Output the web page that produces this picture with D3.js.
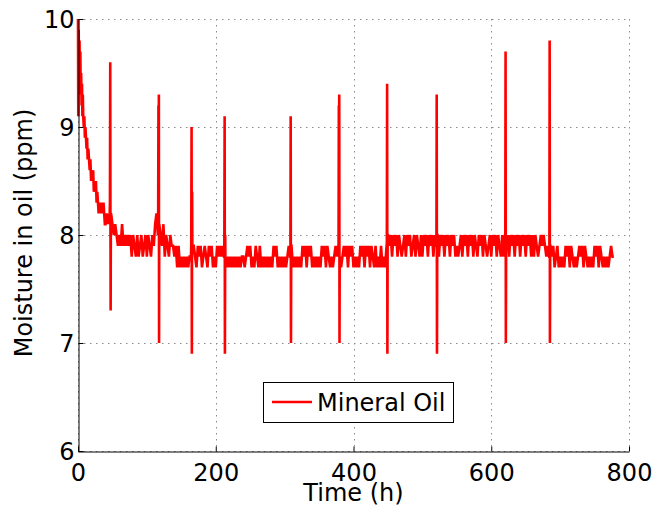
<!DOCTYPE html>
<html>
<head>
<meta charset="utf-8">
<script src="https://cdn.jsdelivr.net/npm/d3@7"></script>
<style>
  html, body { margin: 0; padding: 0; background: #fff; }
  svg { display: block; }
  text { font-family: "DejaVu Sans", "Liberation Sans", Arial, sans-serif; fill: #000; }
</style>
</head>
<body>
<svg id="chart" width="652" height="514"></svg>
<script>
// Axis ticks
const xTicks = [0, 200, 400, 600, 800];
const yTicks = [6, 7, 8, 9, 10];

// Initial drying phase: [time (h), moisture (ppm)]
const decayPoints = [
  [0, 10.0], [0.4, 9.1], [1.0, 9.9], [1.6, 9.3], [2.2, 9.8], [2.8, 9.4],
  [3.4, 9.7], [4.0, 9.3], [4.6, 9.5], [5.2, 9.2], [5.8, 9.4], [6.4, 9.1],
  [7.0, 9.3], [7.6, 9.1], [8.4, 9.0], [9.2, 9.1], [10.0, 8.9], [10.8, 9.0],
  [11.6, 8.9], [12.4, 8.8], [13.2, 8.9], [14.0, 8.7], [15.0, 8.8], [16.0, 8.7],
  [17.0, 8.6], [18.0, 8.7], [19.0, 8.5], [20.0, 8.6], [21.0, 8.5], [22.0, 8.6],
  [23.0, 8.4], [24.0, 8.5], [25.0, 8.4], [26.0, 8.5], [27.0, 8.3], [28.0, 8.4],
  [29.0, 8.3], [30.0, 8.2], [31.0, 8.3], [32.0, 8.2], [33.0, 8.3], [34.0, 8.2],
  [35.0, 8.3], [36.0, 8.2], [37.0, 8.3], [38.0, 8.2], [39.0, 8.1]
];

// Logged readings every 2 h from t = 40 h, one digit per reading:
// moisture = 7.5 + digit / 10 ppm (2 = 7.7, 3 = 7.8, 4 = 7.9, 5 = 8.0 ...)
const levelStart = 40;
const levelStep = 2;
const levelChunks = [
  "6767765654", "5464545453", "5435345345", "3543546756", "5463543544",
  "3424232323", "2334432434", "2343243423", "2434343323", "2323232323",
  "3234342324", "3242323232", "3243423232", "3234342323", "2324342434",
  "2323232434", "2432323434", "3234342434", "2323243424", "3424324232",
  "4232454535", "4535434535", "4534535435", "3545354535", "4535453545",
  "3545343453", "5453545354", "3545354345", "3545354353", "5453545354",
  "5354535453", "5354345454", "3434342342", "3232434243", "2323434243",
  "2323243424", "3232323433"
];

// Short disturbances (sensor transients): [time (h), moisture (ppm)]
const spike1 = [[46.4, 8.3], [46.8, 9.6], [47.1, 8.2], [47.4, 7.3], [47.7, 8.1]];
const spike2 = [[116.4, 8.2], [116.8, 9.2], [117.1, 8.8], [117.4, 9.3], [117.7, 7.0], [117.9, 7.9]];
const spike3 = [[164.4, 7.9], [164.9, 9.0], [165.3, 6.9], [165.7, 8.4]];
const spike4 = [[212.4, 7.8], [212.9, 9.1], [213.3, 6.9], [213.7, 8.0]];
const spike5 = [[308.4, 7.8], [308.8, 9.1], [309.2, 7.0], [309.6, 7.9]];
const spike6 = [[378.3, 7.9], [378.7, 9.2], [379.0, 8.9], [379.3, 9.3], [379.7, 7.0]];
const spike7 = [[448.4, 7.9], [448.8, 9.4], [449.2, 6.9], [449.6, 8.0]];
const spike8 = [[520.4, 7.9], [520.8, 9.3], [521.2, 6.9], [521.6, 8.0]];
const spike9 = [[620.4, 8.0], [620.8, 9.7], [621.2, 7.0], [621.6, 7.9]];
const spike10 = [[684.4, 7.8], [684.8, 9.8], [685.2, 7.0], [685.6, 7.9]];

const seriesName = "Mineral Oil";
const xTitle = "Time (h)";
const yTitle = "Moisture in oil (ppm)";

// ---- assemble the series ----
const levelPoints = [];
levelChunks.join("").split("").forEach((c, i) => {
  levelPoints.push([levelStart + i * levelStep, 7.5 + (+c) / 10]);
});
const series = decayPoints
  .concat(levelPoints)
  .concat(spike1, spike2, spike3, spike4, spike5, spike6, spike7, spike8, spike9, spike10)
  .sort((a, b) => a[0] - b[0]);

// ---- layout ----
const svg = d3.select("#chart");
const plotLeft = 78, plotRight = 629, plotTop = 19, plotBottom = 451;
const x = d3.scaleLinear().domain([0, 800]).range([plotLeft, plotRight]);
const y = d3.scaleLinear().domain([6, 10]).range([plotBottom, plotTop]);
const fontFamily = '"DejaVu Sans", "Liberation Sans", Arial, sans-serif';
const fontSize = 24;

// grid
const grid = svg.append("g")
  .attr("stroke", "#8a8a8a")
  .attr("stroke-width", 1)
  .attr("stroke-dasharray", "1.5,4.5");
grid.selectAll("line.gx").data(xTicks).join("line")
  .attr("class", "gx")
  .attr("x1", d => Math.round(x(d)) + 0.5).attr("x2", d => Math.round(x(d)) + 0.5)
  .attr("y1", plotTop).attr("y2", plotBottom);
grid.selectAll("line.gy").data(yTicks).join("line")
  .attr("class", "gy")
  .attr("y1", d => Math.round(y(d)) + 0.5).attr("y2", d => Math.round(y(d)) + 0.5)
  .attr("x1", plotLeft).attr("x2", plotRight);

// data line
svg.append("path")
  .datum(series)
  .attr("fill", "none")
  .attr("stroke", "#ff0000")
  .attr("stroke-width", 2.6)
  .attr("d", d3.line().x(d => x(d[0])).y(d => y(d[1])));

// axes
const xAxis = svg.append("g")
  .attr("transform", `translate(0,${Math.round(plotBottom) + 0.5})`)
  .call(d3.axisBottom(x).tickValues(xTicks).tickFormat(d3.format("d"))
    .tickSizeInner(-5).tickSizeOuter(0).tickPadding(12.5));
const yAxis = svg.append("g")
  .attr("transform", `translate(${Math.round(plotLeft) + 0.5},0)`)
  .call(d3.axisLeft(y).tickValues(yTicks).tickFormat(d3.format("d"))
    .tickSizeInner(-5).tickSizeOuter(0).tickPadding(4));
[xAxis, yAxis].forEach(g => {
  g.selectAll("path.domain").attr("stroke", "#000").attr("stroke-width", 1);
  g.selectAll(".tick line").attr("stroke", "#000");
  g.selectAll(".tick text")
    .style("font-family", fontFamily)
    .style("font-size", fontSize + "px")
    .attr("fill", "#000");
});
yAxis.selectAll(".tick text").attr("dy", "0.36em");

// axis titles
svg.append("text")
  .attr("x", (plotLeft + plotRight) / 2)
  .attr("y", 501)
  .attr("text-anchor", "middle")
  .style("font-size", fontSize + "px")
  .text(xTitle);
svg.append("text")
  .attr("transform", `translate(32,233) rotate(-90)`)
  .attr("text-anchor", "middle")
  .style("font-size", fontSize + "px")
  .text(yTitle);

// legend
const legend = svg.append("g");
legend.append("rect")
  .attr("x", 263.5).attr("y", 382.5)
  .attr("width", 190).attr("height", 40)
  .attr("fill", "#fff").attr("stroke", "#000").attr("stroke-width", 1);
legend.append("line")
  .attr("x1", 272).attr("x2", 312)
  .attr("y1", 402).attr("y2", 402)
  .attr("stroke", "#ff0000").attr("stroke-width", 2.6);
legend.append("text")
  .attr("x", 317).attr("y", 410.5)
  .style("font-size", fontSize + "px")
  .text(seriesName);
</script>
</body>
</html>
